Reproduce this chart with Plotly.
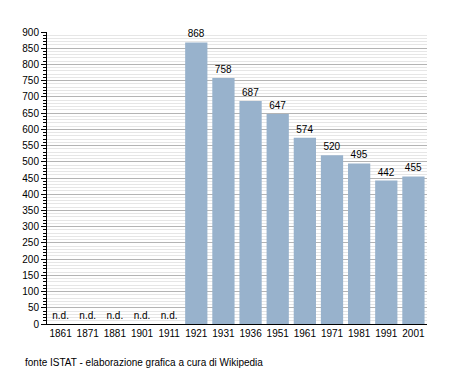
import plotly.graph_objects as go

years = ["1861", "1871", "1881", "1901", "1911", "1921", "1931", "1936", "1951", "1961", "1971", "1981", "1991", "2001"]
values = [None, None, None, None, None, 868, 758, 687, 647, 574, 520, 495, 442, 455]
nd_label = "n.d."
source = "fonte ISTAT - elaborazione grafica a cura di Wikipedia"

bar_y = [v if v is not None else 0 for v in values]
bar_text = [str(v) if v is not None else nd_label for v in values]

FS = 10

fig = go.Figure()
fig.add_trace(go.Bar(
    x=years, y=bar_y, text=bar_text, textposition="outside",
    marker=dict(color="#98b2cc", line=dict(width=0)),
    textfont=dict(size=FS, color="#000000"), cliponaxis=False,
))

fig.update_layout(
    width=447, height=365,
    margin=dict(l=39, r=28, t=24, b=49),
    paper_bgcolor="white", plot_bgcolor="white",
    showlegend=False,
    font=dict(family="Liberation Sans, Arial, sans-serif", size=FS, color="#000000"),
    bargap=0.18,
    xaxis=dict(
        type="category", showgrid=False, ticks="", showline=True,
        linecolor="#000000", linewidth=1, tickfont=dict(size=10),
    ),
    yaxis=dict(
        range=[0, 900], dtick=50, tick0=0, showgrid=True, gridcolor="#b4b4b4",
        gridwidth=1, ticks="outside", ticklen=5, tickcolor="#000000",
        showline=True, linecolor="#000000", linewidth=1, zeroline=False,
        tickfont=dict(size=10),
        minor=dict(dtick=10, tick0=0, ticks="outside", ticklen=3, tickcolor="#000000",
                   showgrid=True, gridcolor="#e6e6e6", gridwidth=1),
    ),
    annotations=[dict(
        text=source, xref="paper", yref="paper", x=0, y=-(362 - 324) / 292,
        xanchor="left", yanchor="middle", showarrow=False, xshift=-24,
        font=dict(size=10, color="#000000"),
    )],
)
fig.write_html("out.html")
